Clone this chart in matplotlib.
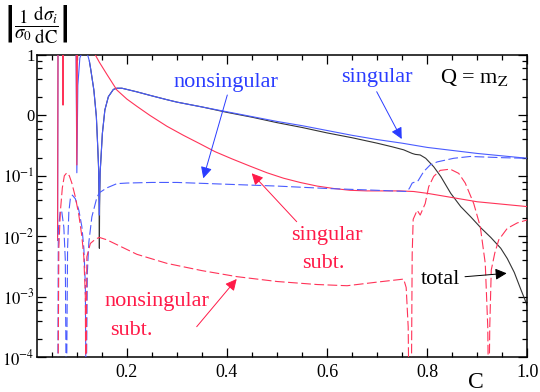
import matplotlib
matplotlib.use('Agg')
import matplotlib.pyplot as plt
import numpy as np
from matplotlib.ticker import FixedLocator, FixedFormatter, MultipleLocator, NullFormatter, LogLocator

plt.rcParams['font.family'] = ['Liberation Serif', 'DejaVu Serif']
plt.rcParams['mathtext.fontset'] = 'stix'
plt.rcParams['lines.scale_dashes'] = False

# ---------------- data (log10 of |1/sigma0 dsigma_i/dC|) ----------------
singular_C = [0.0615, 0.0625, 0.098, 0.100, 0.102, 0.106, 0.112, 0.120, 0.125, 0.128,
              0.134, 0.139, 0.142, 0.1435, 0.1445, 0.145, 0.1455, 0.1465, 0.148, 0.151,
              0.156, 0.163, 0.173, 0.180, 0.19, 0.2, 0.22, 0.247, 0.28, 0.3,
              0.35, 0.4, 0.45, 0.5, 0.55, 0.6, 0.65, 0.7, 0.75, 0.8,
              0.85, 0.9, 0.95, 1.0]
singular_log = [-2.0, 1.5, 1.5, -0.95, 0.5, 0.95, 1.08, 1.05, 0.9, 0.75,
                0.42, -0.02, -0.57, -0.85, -1.3, -1.65, -1.3, -0.95, -0.74, -0.30,
                0.09, 0.31, 0.43, 0.45, 0.45, 0.43, 0.39, 0.33, 0.26, 0.22,
                0.14, 0.06, -0.02, -0.10, -0.17, -0.25, -0.33, -0.40, -0.46, -0.53,
                -0.58, -0.63, -0.67, -0.71]

total_C = [0.125, 0.128, 0.134, 0.139, 0.142, 0.1435, 0.1445, 0.145, 0.1455, 0.1465,
           0.148, 0.151, 0.156, 0.163, 0.173, 0.18, 0.19, 0.2, 0.22, 0.247,
           0.28, 0.3, 0.35, 0.4, 0.45, 0.5, 0.55, 0.6, 0.65, 0.7,
           0.73, 0.753, 0.77, 0.776, 0.786, 0.797, 0.813, 0.827, 0.847, 0.867,
           0.887, 0.907, 0.927, 0.947, 0.96, 0.974, 0.987, 1.0]
total_log = [0.9, 0.75, 0.42, -0.02, -0.57, -0.9, -1.5, -2.2, -1.5, -0.95,
             -0.74, -0.30, 0.09, 0.31, 0.43, 0.45, 0.45, 0.43, 0.39, 0.33,
             0.26, 0.22, 0.14, 0.05, -0.03, -0.12, -0.20, -0.29, -0.37, -0.46,
             -0.52, -0.57, -0.63, -0.645, -0.655, -0.71, -0.85, -1.01, -1.29, -1.51,
             -1.68, -1.86, -2.02, -2.20, -2.37, -2.60, -2.88, -3.15]

sing_subt_C = [0.0615, 0.0625, 0.0715, 0.0724, 0.0733, 0.0985, 0.100, 0.1015, 0.120, 0.130,
               0.137, 0.145, 0.16, 0.18, 0.2, 0.22, 0.246, 0.28, 0.313, 0.346,
               0.376, 0.41, 0.446, 0.48, 0.513, 0.546, 0.58, 0.613, 0.646, 0.68,
               0.712, 0.745, 0.773, 0.8, 0.85, 0.9, 0.95, 1.0]
sing_subt_log = [-2.07, 1.5, 1.5, 0.17, 1.5, 1.5, -0.82, 1.5, 1.4, 1.2,
                 1.0, 0.88, 0.68, 0.42, 0.27, 0.15, 0.0, -0.18, -0.33, -0.47,
                 -0.60, -0.72, -0.84, -0.95, -1.04, -1.11, -1.17, -1.21, -1.24, -1.25,
                 -1.25, -1.25, -1.26, -1.29, -1.36, -1.43, -1.47, -1.51]

nonsing_C = [0.0618, 0.063, 0.067, 0.070, 0.074, 0.077, 0.079, 0.0815, 0.084, 0.087,
             0.091, 0.097, 0.104, 0.110, 0.114, 0.117, 0.1185, 0.121, 0.124, 0.130,
             0.140, 0.145, 0.160, 0.180, 0.2, 0.25, 0.3, 0.4, 0.5, 0.6,
             0.7, 0.76, 0.765, 0.770, 0.776, 0.782, 0.793, 0.806, 0.82, 0.853,
             0.886, 0.95, 1.0]
nonsing_log = [-5.0, -1.9, -1.57, -1.6, -1.85, -2.4, -5.0, -2.2, -1.6, -1.38,
               -1.32, -1.38, -1.57, -1.84, -2.2, -2.8, -5.0, -2.6, -2.1, -1.68,
               -1.36, -1.28, -1.2, -1.13, -1.12, -1.11, -1.11, -1.14, -1.17, -1.21,
               -1.24, -1.26, -1.2, -1.12, -1.10, -1.08, -0.93, -0.82, -0.77, -0.71,
               -0.68, -0.70, -0.71]

nonsing_subt_C = [0.0622, 0.064, 0.067, 0.071, 0.075, 0.080, 0.085, 0.090, 0.097, 0.104,
                  0.110, 0.114, 0.117, 0.118, 0.120, 0.127, 0.137, 0.145, 0.16, 0.18,
                  0.22, 0.28, 0.35, 0.42, 0.5, 0.58, 0.64, 0.7, 0.753, 0.758,
                  0.762, 0.764, 0.768, 0.770, 0.772, 0.780, 0.786, 0.796, 0.803, 0.813,
                  0.826, 0.846, 0.863, 0.876, 0.893, 0.906, 0.916, 0.921, 0.923, 0.925,
                  0.928, 0.935, 0.943, 0.96, 0.98, 1.0]
nonsing_subt_log = [-5.0, -2.2, -1.6, -1.2, -1.0, -0.95, -1.0, -1.12, -1.35, -1.65,
                    -2.0, -2.35, -3.0, -5.0, -2.34, -2.12, -2.05, -2.02, -2.06, -2.14,
                    -2.3, -2.45, -2.57, -2.67, -2.75, -2.8, -2.82, -2.76, -2.71, -2.85,
                    -3.5, -5.0, -5.0, -2.3, -1.72, -1.57, -1.65, -1.46, -1.18, -1.01,
                    -0.91, -0.89, -0.96, -1.12, -1.46, -1.84, -2.45, -3.5, -5.0, -3.5,
                    -2.56, -2.28, -2.06, -1.87, -1.78, -1.73]

x_ticks = [0.2, 0.4, 0.6, 0.8, 1.0]
x_ticklabels = ['0.2', '0.4', '0.6', '0.8', '1.0']
y_ticks = [1e-4, 1e-3, 1e-2, 1e-1, 1e0, 1e1]
y_ticklabels = [r'$10^{-4}$', r'$10^{-3}$', r'$10^{-2}$', r'$10^{-1}$', '0', '1']

BLUE = '#4a5cff'
BLUE_T = '#2a3cff'
RED = '#ff3358'
RED_T = '#ff1a48'

W, H = 540, 392
fig = plt.figure(figsize=(W / 100, H / 100), dpi=100)
ax = fig.add_axes([37.3 / W, 1 - 357 / H, 490 / W, 302 / H])


def pw(v):
    return np.power(10.0, np.asarray(v, dtype=float))


ax.plot(total_C, pw(total_log), color='#333333', lw=0.8, zorder=2)
ax.plot(singular_C, pw(singular_log), color=BLUE, lw=0.8, zorder=3)
ax.plot(sing_subt_C, pw(sing_subt_log), color=RED, lw=0.8, zorder=3)
ax.plot(nonsing_C, pw(nonsing_log), color=BLUE, lw=0.8, ls=(0, (7, 2.5)), zorder=3)
ax.plot(nonsing_subt_C, pw(nonsing_subt_log), color=RED, lw=0.8, ls=(0, (7, 2.5)), zorder=3)

ax.set_yscale('log')
ax.set_xlim(0.021, 1.0)
ax.set_ylim(1e-4, 10)

ax.xaxis.set_major_locator(FixedLocator(x_ticks))
ax.xaxis.set_major_formatter(FixedFormatter(x_ticklabels))
ax.xaxis.set_minor_locator(MultipleLocator(0.05))
ax.yaxis.set_major_locator(FixedLocator(y_ticks))
ax.yaxis.set_major_formatter(FixedFormatter(y_ticklabels))
ax.yaxis.set_minor_locator(LogLocator(base=10, subs=(2, 4, 6, 8)))
ax.yaxis.set_minor_formatter(NullFormatter())

ax.tick_params(which='both', direction='in', top=True, right=True, width=0.9)
ax.tick_params(which='major', length=6.5)
ax.tick_params(which='minor', length=3.5)
ax.tick_params(axis='x', which='major', labelsize=13, pad=5)
ax.tick_params(axis='y', which='major', labelsize=12, pad=2)
for s in ax.spines.values():
    s.set_linewidth(1.1)


def fp(x, y):
    return (x, H - y)


def txt(x, y, s, color, size=16, ha='left'):
    fig.text(x / W, 1 - y / H, s, color=color, fontsize=size, ha=ha, va='baseline')


def arrow(tail, tip, color):
    ax.annotate('', xy=fp(*tip), xytext=fp(*tail), xycoords='figure pixels',
                textcoords='figure pixels',
                arrowprops=dict(arrowstyle='-|>', color=color, lw=0.7,
                                mutation_scale=17, shrinkA=0, shrinkB=0))


txt(173, 87, 'nonsingular', BLUE_T)
arrow((227.3, 95), (203.3, 178.3), BLUE_T)
txt(341, 82, 'singular', BLUE_T)
arrow((376.7, 91.7), (401.7, 139), BLUE_T)
txt(291, 240, 'singular', RED_T)
txt(302, 268, 'subt.', RED_T)
arrow((296.7, 221.7), (251.7, 173.3), RED_T)
txt(104, 306, 'nonsingular', RED_T)
txt(110, 335, 'subt.', RED_T)
arrow((196.7, 326.7), (236.7, 279), RED_T)
txt(421, 284, 'total', 'black')
arrow((465, 276.7), (506.7, 273.3), 'black')
txt(440, 83, r'Q = m$_{\mathrm{Z}}$', 'black')

fig.text(476 / W, 1 - 388 / H, 'C', fontsize=17, ha='center', va='baseline')
fig.text(4 / W, 1 - 3 / H,
         r'$\left|\dfrac{1}{\sigma_0}\dfrac{\mathrm{d}\sigma_i}{\mathrm{dC}}\right|$',
         fontsize=13.5, ha='left', va='top')

fig.savefig('out.png', dpi=100)
